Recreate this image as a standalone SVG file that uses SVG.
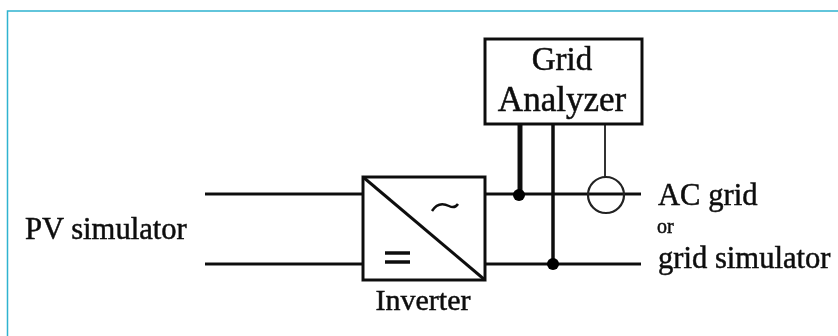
<svg xmlns="http://www.w3.org/2000/svg" width="838" height="336" viewBox="0 0 838 336">
<defs><filter id="soft" x="-2%" y="-2%" width="104%" height="104%"><feGaussianBlur stdDeviation="0.55"/></filter></defs>
<style>
text{font-family:"Liberation Serif","Times New Roman",serif;fill:#111;font-size:30.600px;stroke:#111;stroke-width:0.5}
.box{fill:#fff;stroke:#111;stroke-width:3}
.w{fill:none;stroke:#111;stroke-width:3}
.dot{fill:#000}
</style>
<rect width="838" height="336" fill="#fff"/>
<path d="M7.500 336V11H838" fill="none" stroke="#2fb3d0" stroke-width="1.500"/>
<g filter="url(#soft)">
<g id="connectors">
<path class="w" d="M205 194H363M205 264H363M485 194H641M485 264H641"/>
<path class="w" style="stroke-width:5" d="M520 124V194"/>
<path class="w" style="stroke-width:3.500" d="M553 124V264"/>
<path class="w" style="stroke:#333;stroke-width:2" d="M605 124V177"/>
<circle class="dot" cx="519" cy="195" r="6"/>
<circle class="dot" cx="553" cy="264" r="6"/>
</g>
<g id="grid-analyzer">
<rect class="box" x="485" y="39" width="157" height="85"/>
<text x="562" y="70" text-anchor="middle" style="font-size:33px">Grid</text>
<text x="562" y="111" text-anchor="middle" style="font-size:35px">Analyzer</text>
</g>
<g id="inverter">
<rect class="box" x="363" y="177" width="122" height="103"/>
<path class="w" d="M363 177L485 280"/>
<path class="w" d="M385 253H410M385 262H410" style="stroke-width:3.500"/>
<path class="w" d="M432 211C437 203 443 203 449 206C453 208 456 207 458 204" style="stroke-width:2.500"/>
<text x="423" y="310" text-anchor="middle" style="font-size:30px">Inverter</text>
</g>
<g id="current-sensor">
<circle cx="606" cy="195" r="18" fill="none" stroke="#222" stroke-width="2.200"/>
</g>
<g id="labels">
<text x="25" y="239">PV simulator</text>
<text x="658" y="205">AC grid</text>
<text x="657" y="233" style="font-size:20px">or</text>
<text x="658" y="268">grid simulator</text>
</g>
</g>
</svg>
